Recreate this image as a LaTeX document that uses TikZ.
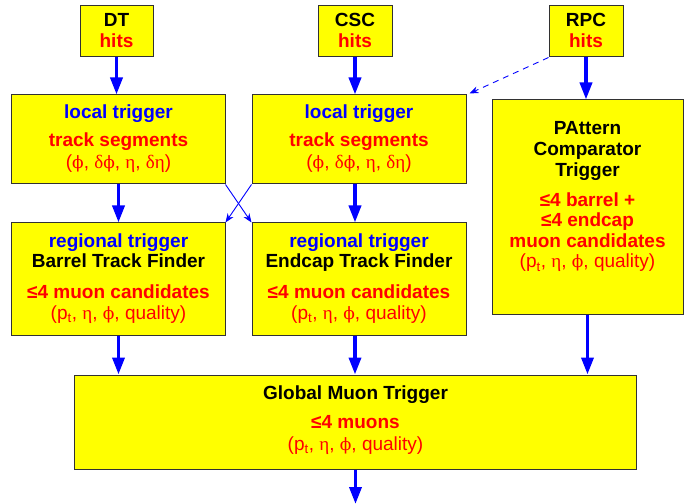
\documentclass[tikz,border=0pt]{standalone}
\usepackage{fontspec}
\setmainfont{Liberation Sans}
\newfontfamily\grk{Liberation Serif}
\newfontfamily\phifont{DejaVu Serif}
\usetikzlibrary{arrows.meta}
\definecolor{yel}{RGB}{255,255,0}
\definecolor{blu}{RGB}{0,0,255}
\definecolor{rd}{RGB}{255,0,0}
\definecolor{edgegray}{RGB}{50,50,50}
\newcommand\gk[1]{{\grk #1}}
\newcommand\gphi{{\phifont\fontsize{17bp}{20bp}\selectfont ϕ}}
\newcommand\ptq{(p\textsubscript{t}, \gk{η}, \gphi, quality)}
\begin{document}
\begin{tikzpicture}[x=1bp,y=-1bp,
  box/.style={draw=edgegray, fill=yel, line width=1bp, inner sep=0, rectangle},
  bt/.style={anchor=base, inner sep=0, font=\fontsize{19bp}{22bp}\selectfont\bfseries},
  rt/.style={anchor=base, inner sep=0, font=\fontsize{19bp}{22bp}\selectfont},
  big/.style={draw=blu, line width=3.5bp, -{Triangle[length=17bp,width=12bp,fill=blu]}},
  thinarr/.style={draw=blu, line width=0.9bp, -{Stealth[length=9bp,width=7bp,fill=blu]}},
  dsh/.style={thinarr, dash pattern=on 6bp off 5bp}]
\useasboundingbox (0,0) rectangle (690,504);

% boxes
\node[box, minimum width=73bp, minimum height=51bp] (dt) at (116.5,31.5) {};
\node[box, minimum width=74bp, minimum height=51bp] (csc) at (355,31.5) {};
\node[box, minimum width=74bp, minimum height=51bp] (rpc) at (586,31.5) {};
\node[box, minimum width=213bp, minimum height=89bp] (ldt) at (118.5,139.5) {};
\node[box, minimum width=214bp, minimum height=89bp] (lcsc) at (359,139.5) {};
\node[box, minimum width=191bp, minimum height=214bp] (pact) at (587.5,207) {};
\node[box, minimum width=213bp, minimum height=112bp] (breg) at (118.5,279) {};
\node[box, minimum width=214bp, minimum height=112bp] (ereg) at (359,279) {};
\node[box, minimum width=561bp, minimum height=94bp] (gmt) at (355.5,422) {};
\coordinate (out) at (355.5,504);

% texts
\node[bt] (dt1) at (116.5,27) {DT};
\node[bt, text=rd] (dt2) at (116.5,48) {hits};
\node[bt] (csc1) at (355,27) {CSC};
\node[bt, text=rd] (csc2) at (355,48) {hits};
\node[bt] (rpc1) at (586,27) {RPC};
\node[bt, text=rd] (rpc2) at (586,48) {hits};

\node[bt, text=blu] (ldt1) at (118.5,119) {local trigger};
\node[bt, text=rd] (ldt2) at (118.5,147) {track segments};
\node[rt, text=rd] (ldt3) at (118.5,169) {(\gphi, \gk{δ}\gphi, \gk{η}, \gk{δη})};

\node[bt, text=blu] (lcsc1) at (359,119) {local trigger};
\node[bt, text=rd] (lcsc2) at (359,147) {track segments};
\node[rt, text=rd] (lcsc3) at (359,169) {(\gphi, \gk{δ}\gphi, \gk{η}, \gk{δη})};

\node[bt] (p1) at (587.5,135) {PAttern};
\node[bt] (p2) at (587.5,156) {Comparator};
\node[bt] (p3) at (587.5,177) {Trigger};
\node[bt, text=rd] (p4) at (587.5,207) {≤4 barrel +};
\node[bt, text=rd] (p5) at (587.5,227) {≤4 endcap};
\node[bt, text=rd] (p6) at (587.5,248) {muon candidates};
\node[rt, text=rd] (p7) at (587.5,268) {\ptq};

\node[bt, text=blu] (b1) at (118.5,248) {regional trigger};
\node[bt] (b2) at (118.5,268) {Barrel Track Finder};
\node[bt, text=rd] (b3) at (118.5,298) {≤4 muon candidates};
\node[rt, text=rd] (b4) at (118.5,319) {\ptq};

\node[bt, text=blu] (e1) at (359,248) {regional trigger};
\node[bt] (e2) at (359,268) {Endcap Track Finder};
\node[bt, text=rd] (e3) at (359,298) {≤4 muon candidates};
\node[rt, text=rd] (e4) at (359,319) {\ptq};

\node[bt] (g1) at (355.5,399) {Global Muon Trigger};
\node[bt, text=rd] (g2) at (355.5,428) {≤4 muons};
\node[rt, text=rd] (g3) at (355.5,450) {\ptq};

% connectors
\draw[big] (dt.south) -- (dt.south |- ldt.north);
\draw[big] (csc.south) -- (csc.south |- lcsc.north);
\draw[big] (rpc.south) -- (rpc.south |- pact.north);
\draw[big] (ldt.south) -- (ldt.south |- breg.north);
\draw[big] (csc.south |- lcsc.south) -- (csc.south |- ereg.north);
\draw[big] (breg.south) -- (breg.south |- gmt.north);
\draw[big] (csc.south |- ereg.south) -- (csc.south |- gmt.north);
\draw[big] (pact.south) -- (pact.south |- gmt.north);
\draw[big] (gmt.south) -- (out);
\draw[thinarr] (ldt.south east) -- (ereg.north west);
\draw[thinarr] (lcsc.south west) -- (breg.north east);
\draw[dsh] (rpc.south west) -- ([shift={(3,-1)}]lcsc.north east);
\end{tikzpicture}
\end{document}
